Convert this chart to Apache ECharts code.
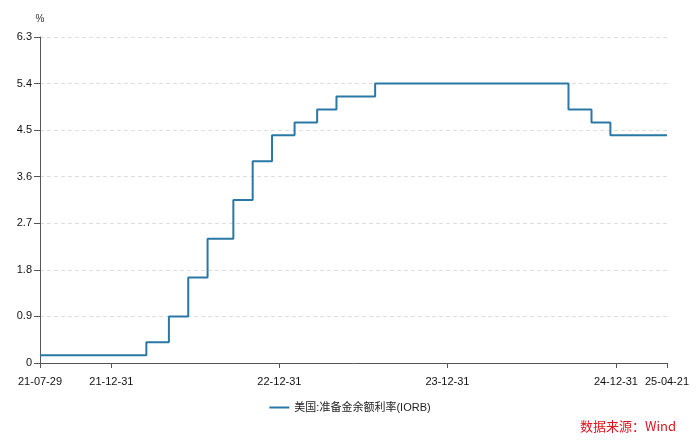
<!DOCTYPE html>
<html>
<head>
<meta charset="utf-8">
<script src="https://cdn.jsdelivr.net/npm/echarts@6/dist/echarts.min.js"></script>
<style>html,body{margin:0;padding:0;background:#fff}#c{width:700px;height:445px}</style>
</head>
<body>
<div id="c"></div>
<script>
// change dates of the IORB and the rate that applies from that date
const changeDates = ['2021-07-29','2022-03-17','2022-05-05','2022-06-16','2022-07-28','2022-09-22','2022-11-03','2022-12-15','2023-02-02','2023-03-23','2023-05-04','2023-07-27','2024-09-19','2024-11-08','2024-12-19','2025-04-21'];
const rates = [0.15,0.40,0.90,1.65,2.40,3.15,3.90,4.40,4.65,4.90,5.15,5.40,4.90,4.65,4.40,4.40];
const xTickLabels = ['2021-07-29','2021-12-31','2022-12-31','2023-12-31','2024-12-31','2025-04-21'];
const seriesName = '美国:准备金余额利率(IORB)';

const ts = s => { const p = s.split('-'); return Date.UTC(+p[0], +p[1]-1, +p[2]); };
const pad = n => (n < 10 ? '0' : '') + n;
const fmt = v => { const d = new Date(v); return pad(d.getUTCFullYear() % 100) + '-' + pad(d.getUTCMonth()+1) + '-' + pad(d.getUTCDate()); };

const data = changeDates.map((d, i) => [ts(d), rates[i]]);
const tickVals = xTickLabels.map(ts);
const font = 'Liberation Sans, Arial, "Noto Sans CJK SC", sans-serif';

const chart = echarts.init(document.getElementById('c'), null, {renderer: 'canvas'});
chart.setOption({
  animation: false,
  textStyle: {fontFamily: font},
  grid: {left: 40, right: 33, top: 37, bottom: 82, containLabel: false},
  xAxis: {
    type: 'value',
    min: tickVals[0],
    max: tickVals[tickVals.length - 1],
    axisLine: {lineStyle: {color: '#555', width: 1}},
    axisTick: {show: true, customValues: tickVals, length: 5, lineStyle: {color: '#555'}},
    axisLabel: {customValues: tickVals, formatter: v => fmt(v), color: '#111', fontSize: 11, margin: 13, fontFamily: font, showMinLabel: true, showMaxLabel: true},
    splitLine: {show: false}
  },
  yAxis: {
    type: 'value',
    min: 0, max: 6.3, interval: 0.9,
    name: '%',
    nameGap: 13,
    nameTextStyle: {color: '#333', fontSize: 10, align: 'center'},
    axisLine: {show: true, lineStyle: {color: '#555', width: 1}},
    axisTick: {show: true, length: 6, lineStyle: {color: '#555'}},
    axisLabel: {color: '#111', fontSize: 11, margin: 8, fontFamily: font, formatter: v => (v === 0 ? '0' : v.toFixed(1))},
    splitLine: {show: true, lineStyle: {color: '#ddd', type: [4, 3], width: 1}}
  },
  legend: {
    bottom: 27,
    left: 'center',
    itemWidth: 20, itemHeight: 2,
    icon: 'rect',
    textStyle: {color: '#222', fontSize: 11, fontFamily: font},
    data: [seriesName]
  },
  series: [{
    name: seriesName,
    type: 'line',
    step: 'end',
    data: data,
    showSymbol: false,
    symbol: 'none',
    lineStyle: {color: '#2a78a6', width: 2},
    itemStyle: {color: '#2a78a6'}
  }],
  graphic: [{
    type: 'text',
    right: 24,
    bottom: 12,
    style: {text: '数据来源：Wind', fill: '#e0141e', font: '13px "Noto Sans CJK SC", Liberation Sans, sans-serif'}
  }]
});
</script>
</body>
</html>
